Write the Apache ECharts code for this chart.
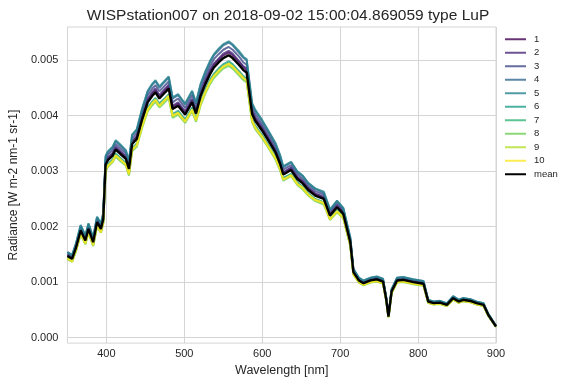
<!DOCTYPE html>
<html>
<head>
<meta charset="utf-8">
<script src="https://cdn.jsdelivr.net/npm/echarts@6/dist/echarts.min.js"></script>
<style>
  html, body { margin: 0; padding: 0; background: #ffffff; }
  #chart { width: 568px; height: 382px; }
</style>
</head>
<body>
<div id="chart"></div>
<script>
// Wavelength samples [nm]
const wavelengths = [
  350, 356, 361, 367, 373, 377, 383, 388, 393, 396,
  399, 402, 408, 412, 418, 425, 429, 433, 439, 446,
  453, 459, 463, 468, 474, 480, 485, 492, 501, 510,
  515, 521, 527, 533, 538, 544, 550, 557, 562, 570,
  576, 580, 587, 591, 600, 608, 617, 623, 627, 637,
  645, 652, 659, 668, 679, 687, 696, 704, 713, 717,
  724, 730, 739, 747, 755, 759, 762, 766, 773, 781,
  794, 807, 813, 820, 828, 837, 845, 852, 858, 867,
  875, 884, 890, 900
];

// Upwelling radiance per scan, in mW m-2 nm-1 sr-1
const scan1 = [
  1.48, 1.43, 1.64, 1.95, 1.77, 1.98, 1.74, 2.10, 1.98, 2.16,
  3.15, 3.23, 3.31, 3.42, 3.34, 3.25, 3.07, 3.52, 3.62, 3.98,
  4.28, 4.40, 4.46, 4.35, 4.44, 4.53, 4.16, 4.22, 4.06, 4.28,
  4.08, 4.40, 4.62, 4.80, 4.92, 5.01, 5.09, 5.14, 5.09, 4.97,
  4.87, 4.83, 4.07, 3.95, 3.77, 3.59, 3.37, 3.16, 2.97, 3.05,
  2.89, 2.81, 2.69, 2.59, 2.52, 2.22, 2.37, 2.25, 1.74, 1.19,
  1.040, 0.990, 1.040, 1.061, 1.020, 0.707, 0.384, 0.838, 1.040, 1.050,
  1.010, 0.980, 0.657, 0.626, 0.636, 0.596, 0.717, 0.657, 0.687, 0.667,
  0.626, 0.596, 0.414, 0.202
];
const scan2 = [
  1.49, 1.44, 1.64, 1.96, 1.78, 1.99, 1.75, 2.11, 1.99, 2.17,
  3.17, 3.25, 3.33, 3.44, 3.36, 3.27, 3.09, 3.54, 3.63, 4.00,
  4.30, 4.43, 4.49, 4.37, 4.47, 4.56, 4.18, 4.24, 4.08, 4.30,
  4.10, 4.43, 4.64, 4.82, 4.94, 5.03, 5.12, 5.17, 5.12, 4.99,
  4.89, 4.85, 4.09, 3.97, 3.79, 3.60, 3.39, 3.18, 2.98, 3.07,
  2.90, 2.82, 2.70, 2.60, 2.54, 2.23, 2.39, 2.26, 1.75, 1.20,
  1.045, 0.995, 1.045, 1.066, 1.025, 0.711, 0.386, 0.842, 1.045, 1.056,
  1.015, 0.985, 0.660, 0.629, 0.639, 0.599, 0.721, 0.660, 0.690, 0.670,
  0.629, 0.599, 0.416, 0.203
];
const scan3 = [
  1.51, 1.46, 1.67, 1.99, 1.80, 2.02, 1.77, 2.14, 2.02, 2.20,
  3.21, 3.30, 3.38, 3.49, 3.41, 3.32, 3.13, 3.59, 3.69, 4.06,
  4.37, 4.49, 4.55, 4.44, 4.53, 4.62, 4.24, 4.31, 4.14, 4.37,
  4.16, 4.49, 4.71, 4.89, 5.02, 5.11, 5.19, 5.24, 5.19, 5.07,
  4.96, 4.92, 4.15, 4.03, 3.84, 3.66, 3.44, 3.22, 3.03, 3.11,
  2.95, 2.86, 2.74, 2.64, 2.58, 2.27, 2.42, 2.30, 1.77, 1.22,
  1.061, 1.009, 1.061, 1.082, 1.040, 0.721, 0.391, 0.855, 1.061, 1.071,
  1.030, 0.999, 0.670, 0.639, 0.649, 0.608, 0.731, 0.670, 0.700, 0.680,
  0.639, 0.608, 0.422, 0.206
];
const scan4 = [
  1.54, 1.48, 1.69, 2.02, 1.83, 2.05, 1.80, 2.17, 2.05, 2.24,
  3.26, 3.34, 3.43, 3.54, 3.46, 3.36, 3.18, 3.65, 3.74, 4.12,
  4.43, 4.56, 4.62, 4.50, 4.60, 4.69, 4.31, 4.37, 4.20, 4.43,
  4.22, 4.56, 4.78, 4.96, 5.09, 5.18, 5.27, 5.32, 5.27, 5.14,
  5.04, 5.00, 4.21, 4.09, 3.90, 3.71, 3.49, 3.27, 3.07, 3.16,
  2.99, 2.91, 2.78, 2.68, 2.61, 2.30, 2.46, 2.33, 1.80, 1.23,
  1.076, 1.024, 1.076, 1.097, 1.055, 0.732, 0.397, 0.867, 1.076, 1.087,
  1.045, 1.014, 0.679, 0.648, 0.658, 0.617, 0.742, 0.679, 0.711, 0.690,
  0.648, 0.617, 0.428, 0.209
];
const scan5 = [
  1.54, 1.49, 1.70, 2.03, 1.84, 2.06, 1.81, 2.18, 2.06, 2.25,
  3.28, 3.36, 3.44, 3.56, 3.48, 3.38, 3.19, 3.66, 3.76, 4.14,
  4.45, 4.58, 4.64, 4.53, 4.62, 4.71, 4.33, 4.39, 4.22, 4.45,
  4.24, 4.58, 4.80, 4.99, 5.11, 5.21, 5.29, 5.34, 5.29, 5.17,
  5.06, 5.02, 4.23, 4.11, 3.92, 3.73, 3.51, 3.29, 3.09, 3.17,
  3.00, 2.92, 2.79, 2.69, 2.63, 2.31, 2.47, 2.34, 1.81, 1.24,
  1.082, 1.029, 1.082, 1.103, 1.061, 0.735, 0.399, 0.872, 1.082, 1.092,
  1.050, 1.019, 0.683, 0.651, 0.662, 0.620, 0.746, 0.683, 0.714, 0.693,
  0.651, 0.620, 0.431, 0.210
];
const scan6 = [
  1.44, 1.39, 1.58, 1.89, 1.71, 1.92, 1.68, 2.03, 1.92, 2.09,
  3.05, 3.13, 3.21, 3.32, 3.24, 3.15, 2.97, 3.41, 3.50, 3.85,
  4.15, 4.26, 4.32, 4.22, 4.30, 4.39, 4.03, 4.09, 3.93, 4.15,
  3.95, 4.26, 4.47, 4.65, 4.76, 4.85, 4.93, 4.98, 4.93, 4.81,
  4.71, 4.67, 3.94, 3.82, 3.65, 3.47, 3.27, 3.06, 2.88, 2.95,
  2.80, 2.72, 2.60, 2.50, 2.44, 2.15, 2.30, 2.18, 1.68, 1.15,
  1.007, 0.958, 1.007, 1.027, 0.988, 0.685, 0.372, 0.812, 1.007, 1.017,
  0.978, 0.949, 0.636, 0.606, 0.616, 0.577, 0.694, 0.636, 0.665, 0.645,
  0.606, 0.577, 0.401, 0.196
];
const scan7 = [
  1.43, 1.38, 1.57, 1.88, 1.70, 1.91, 1.67, 2.02, 1.91, 2.08,
  3.03, 3.11, 3.19, 3.30, 3.22, 3.13, 2.95, 3.39, 3.48, 3.83,
  4.12, 4.24, 4.30, 4.19, 4.28, 4.36, 4.00, 4.06, 3.91, 4.12,
  3.93, 4.24, 4.44, 4.62, 4.73, 4.82, 4.90, 4.95, 4.90, 4.78,
  4.69, 4.65, 3.92, 3.80, 3.63, 3.45, 3.25, 3.04, 2.86, 2.94,
  2.78, 2.70, 2.59, 2.49, 2.43, 2.14, 2.28, 2.17, 1.67, 1.15,
  1.001, 0.953, 1.001, 1.021, 0.982, 0.680, 0.369, 0.807, 1.001, 1.011,
  0.972, 0.943, 0.632, 0.603, 0.612, 0.573, 0.690, 0.632, 0.661, 0.642,
  0.603, 0.573, 0.399, 0.194
];
const scan8 = [
  1.41, 1.37, 1.56, 1.86, 1.68, 1.89, 1.65, 2.00, 1.89, 2.06,
  3.00, 3.08, 3.16, 3.26, 3.18, 3.10, 2.92, 3.36, 3.44, 3.79,
  4.08, 4.19, 4.25, 4.15, 4.23, 4.32, 3.96, 4.02, 3.87, 4.08,
  3.89, 4.19, 4.40, 4.57, 4.68, 4.77, 4.85, 4.90, 4.85, 4.73,
  4.64, 4.60, 3.88, 3.76, 3.59, 3.42, 3.21, 3.01, 2.83, 2.91,
  2.75, 2.67, 2.56, 2.46, 2.40, 2.12, 2.26, 2.15, 1.65, 1.14,
  0.991, 0.943, 0.991, 1.010, 0.972, 0.673, 0.366, 0.798, 0.991, 1.000,
  0.962, 0.933, 0.625, 0.596, 0.606, 0.568, 0.683, 0.625, 0.654, 0.635,
  0.596, 0.568, 0.394, 0.192
];
const scan9 = [
  1.42, 1.37, 1.57, 1.87, 1.69, 1.90, 1.66, 2.01, 1.90, 2.07,
  3.02, 3.10, 3.18, 3.28, 3.20, 3.12, 2.94, 3.38, 3.47, 3.81,
  4.10, 4.22, 4.28, 4.17, 4.26, 4.35, 3.99, 4.05, 3.89, 4.10,
  3.91, 4.22, 4.42, 4.60, 4.71, 4.80, 4.88, 4.93, 4.88, 4.76,
  4.67, 4.63, 3.90, 3.78, 3.61, 3.44, 3.23, 3.03, 2.85, 2.92,
  2.77, 2.69, 2.57, 2.48, 2.42, 2.13, 2.27, 2.16, 1.66, 1.14,
  0.997, 0.949, 0.997, 1.016, 0.978, 0.678, 0.368, 0.803, 0.997, 1.007,
  0.968, 0.939, 0.629, 0.600, 0.610, 0.571, 0.687, 0.629, 0.658, 0.639,
  0.600, 0.571, 0.397, 0.194
];
const scan10 = [
  1.43, 1.38, 1.57, 1.87, 1.70, 1.90, 1.67, 2.02, 1.90, 2.08,
  3.03, 3.10, 3.18, 3.29, 3.21, 3.12, 2.95, 3.39, 3.47, 3.82,
  4.11, 4.23, 4.29, 4.18, 4.27, 4.36, 4.00, 4.05, 3.90, 4.11,
  3.92, 4.23, 4.43, 4.61, 4.72, 4.81, 4.89, 4.94, 4.89, 4.77,
  4.68, 4.64, 3.91, 3.79, 3.62, 3.44, 3.24, 3.04, 2.85, 2.93,
  2.77, 2.70, 2.58, 2.48, 2.43, 2.13, 2.28, 2.16, 1.67, 1.14,
  0.999, 0.951, 0.999, 1.019, 0.980, 0.679, 0.369, 0.805, 0.999, 1.009,
  0.970, 0.941, 0.631, 0.601, 0.611, 0.572, 0.689, 0.631, 0.660, 0.640,
  0.601, 0.572, 0.398, 0.194
];
const scanMean = [
  1.47, 1.42, 1.62, 1.93, 1.75, 1.96, 1.72, 2.08, 1.96, 2.14,
  3.12, 3.20, 3.28, 3.39, 3.31, 3.22, 3.04, 3.49, 3.58, 3.94,
  4.24, 4.36, 4.42, 4.31, 4.40, 4.49, 4.12, 4.18, 4.02, 4.24,
  4.04, 4.36, 4.57, 4.75, 4.87, 4.96, 5.04, 5.09, 5.04, 4.92,
  4.82, 4.78, 4.03, 3.91, 3.73, 3.55, 3.34, 3.13, 2.94, 3.02,
  2.86, 2.78, 2.66, 2.56, 2.50, 2.20, 2.35, 2.23, 1.72, 1.18,
  1.03, 0.98, 1.03, 1.05, 1.01, 0.70, 0.38, 0.83, 1.03, 1.04,
  1.00, 0.97, 0.65, 0.62, 0.63, 0.59, 0.71, 0.65, 0.68, 0.66,
  0.62, 0.59, 0.41, 0.20
];

const scanNames = ['1', '2', '3', '4', '5', '6', '7', '8', '9', '10'];
const scans = [scan1, scan2, scan3, scan4, scan5, scan6, scan7, scan8, scan9, scan10];
// viridis, sampled at ten even steps
const scanColors = ['#440154', '#482878', '#3e4989', '#31688e', '#26828e',
                    '#1f9e89', '#35b779', '#6ece58', '#b5de2b', '#fde725'];

const titleText = 'WISPstation007 on 2018-09-02 15:00:04.869059 type LuP';
const xName = 'Wavelength [nm]';
const yName = 'Radiance [W m-2 nm-1 sr-1]';

const gridColor = '#d5d5d5';
const textColor = '#262626';
const fontFamily = 'Liberation Sans, Arial, sans-serif';

// mW -> W pairs for the value axes
function toPairs(values) {
  return wavelengths.map((w, i) => [w, values[i] / 1000]);
}

const series = scans.map((values, k) => ({
  name: scanNames[k],
  type: 'line',
  data: toPairs(values),
  symbol: 'none',
  showSymbol: false,
  lineStyle: { width: 2, color: scanColors[k], opacity: 0.8 },
  itemStyle: { color: scanColors[k], opacity: 0.8 },
  emphasis: { disabled: true },
  z: 2
}));
series.push({
  name: 'mean',
  type: 'line',
  data: toPairs(scanMean),
  symbol: 'none',
  showSymbol: false,
  lineStyle: { width: 2.4, color: '#000000' },
  itemStyle: { color: '#000000' },
  emphasis: { disabled: true },
  z: 3
});

// every tenth split line (0.000, 0.001, ...) is visible
const clear = 'rgba(0,0,0,0)';
const yLineColors = [clear, gridColor, clear, clear, clear, clear, clear, clear, clear, clear];

const chart = echarts.init(document.getElementById('chart'), null, { renderer: 'canvas' });
chart.setOption({
  animation: false,
  backgroundColor: '#ffffff',
  textStyle: { fontFamily: fontFamily },
  title: {
    text: titleText,
    left: 283,
    textAlign: 'center',
    top: 3,
    textStyle: { fontSize: 15.5, fontWeight: 'normal', color: textColor, fontFamily: fontFamily }
  },
  grid: {
    left: 67, right: 72, top: 27, bottom: 38,
    show: true, borderColor: gridColor, borderWidth: 1, backgroundColor: '#ffffff'
  },
  legend: {
    orient: 'vertical',
    left: 500,
    top: 29,
    icon: 'rect',
    itemWidth: 21,
    itemHeight: 2,
    itemGap: 3,
    itemStyle: { borderWidth: 0 },
    lineStyle: { width: 0 },
    textStyle: { fontSize: 9.5, lineHeight: 10.5, color: textColor, fontFamily: fontFamily, padding: [0, 0, 0, 3] },
    data: scanNames.concat(['mean'])
  },
  xAxis: {
    type: 'value',
    min: 350, max: 900, interval: 50,
    name: xName,
    nameLocation: 'middle',
    nameGap: 19,
    nameTextStyle: { fontSize: 12.5, color: textColor, fontFamily: fontFamily },
    axisLine: { show: false },
    axisTick: { show: false },
    axisLabel: {
      fontSize: 11, color: textColor, margin: 5, fontFamily: fontFamily,
      formatter: v => (v % 100 === 0 ? String(v) : '')
    },
    splitLine: { show: true, lineStyle: { color: [clear, gridColor], width: 1 } }
  },
  yAxis: {
    type: 'value',
    min: -0.0001, max: 0.0056, interval: 0.0001,
    name: yName,
    nameLocation: 'middle',
    nameGap: 40,
    nameTextStyle: { fontSize: 12, color: textColor, fontFamily: fontFamily },
    axisLine: { show: false },
    axisTick: { show: false },
    axisLabel: {
      fontSize: 11, color: textColor, margin: 9, fontFamily: fontFamily,
      formatter: v => {
        const k = Math.round(v * 1000);
        return Math.abs(v * 1000 - k) < 1e-6 ? (k / 1000).toFixed(3) : '';
      }
    },
    splitLine: { show: true, lineStyle: { color: yLineColors, width: 1 } }
  },
  series: series
});
</script>
</body>
</html>
